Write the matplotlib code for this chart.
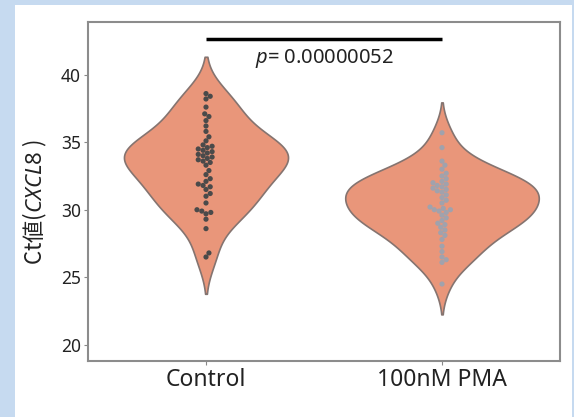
# Violin + swarm: Ct値 (CXCL8), Control vs 100nM PMA
import numpy as np
import matplotlib
matplotlib.use('Agg')
import matplotlib.pyplot as plt
from matplotlib.patches import Rectangle

plt.rcParams['font.family'] = ['Noto Sans CJK JP', 'DejaVu Sans']
plt.rcParams['mathtext.fontset'] = 'custom'
plt.rcParams['mathtext.rm'] = 'Noto Sans'
plt.rcParams['mathtext.it'] = 'Noto Sans:italic'

# --- datos ---
grupos = ['Control', '100nM PMA']
ct_control = [38.6, 38.4, 38.2, 37.6, 37.1, 36.9, 36.6, 36.2, 35.8, 35.4, 35.1,
              34.8, 34.7, 34.6, 34.5, 34.4, 34.3, 34.2, 34.1, 34.0, 33.9,
              33.8, 33.7, 33.6, 33.5, 33.3, 32.9, 32.6, 32.3, 32.1,
              31.9, 31.8, 31.7, 31.5, 31.2, 31.0,
              30.5, 30.0, 29.9, 29.8, 29.7, 29.3, 28.6, 26.8, 26.5]
ct_pma = [35.7, 34.6, 33.6, 33.3, 33.0, 32.7, 32.5, 32.3, 32.1, 32.0, 31.9,
          31.8, 31.7, 31.6, 31.5, 31.4, 31.3, 31.1, 30.9, 30.7, 30.5, 30.2,
          30.1, 30.0, 30.0, 29.9, 29.8, 29.6, 29.4, 29.2, 29.0, 28.9, 28.7,
          28.5, 28.3, 28.1, 27.8, 27.3, 26.9, 26.5, 26.3, 26.1, 24.5]
y_ticks = [20, 25, 30, 35, 40]
p_texto = '0.00000052'


def kde(vals, grid):
    """KDE gaussiano simples (regra de Scott)."""
    v = np.asarray(vals)
    bw = v.std(ddof=1) * len(v) ** (-1 / 5)
    z = (grid[:, None] - v[None, :]) / bw
    dens = np.exp(-0.5 * z ** 2).sum(axis=1) / (len(v) * bw * np.sqrt(2 * np.pi))
    return dens, bw


def swarm_x(ax, vals, centro, d_px):
    """Posições x de um beeswarm simples, calculado em pixels."""
    pts = ax.transData.transform(np.column_stack([np.full(len(vals), centro), vals]))
    xc = pts[0, 0]
    ypx = pts[:, 1]
    xs = np.zeros(len(vals))
    colocados = []
    for i in np.argsort(ypx):
        y = ypx[i]
        cand = [0.0]
        for px, py in colocados:
            dy = y - py
            if abs(dy) < d_px:
                dx = np.sqrt(d_px ** 2 - dy ** 2)
                cand += [px + dx, px - dx]
        cand = sorted(cand, key=abs)
        for c in cand:
            ok = all((c - px) ** 2 + (y - py) ** 2 >= d_px ** 2 - 1e-6 for px, py in colocados)
            if ok:
                break
        colocados.append((c, y))
        xs[i] = c
    xy = ax.transData.inverted().transform(np.column_stack([xc + xs, ypx]))
    return xy[:, 0]


fig = plt.figure(figsize=(5.74, 4.17), dpi=100)
fig.patch.set_facecolor('#c6daf0')
fundo = Rectangle((15 / 574, 0), (572 - 15) / 574, 1 - 5 / 417,
                  transform=fig.transFigure, facecolor='white', edgecolor='none')
fundo.set_zorder(-10)
fig.add_artist(fundo)

ax = fig.add_axes([88 / 574, 1 - 361 / 417, (560 - 88) / 574, (361 - 22) / 417])
ax.set_zorder(1)
ax.set_xlim(-0.5, 1.5)
ax.set_ylim(18.8, 43.9)

# violinos (escala por área, largura 0.8)
dados = [ct_control, ct_pma]
curvas = []
for vals in dados:
    v = np.asarray(vals)
    _, bw = kde(v, np.array([v.mean()]))
    grid = np.linspace(v.min() - 2 * bw, v.max() + 2 * bw, 300)
    dens, _ = kde(v, grid)
    curvas.append((grid, dens))
dmax = max(d.max() for _, d in curvas)
for pos, (grid, dens) in enumerate(curvas):
    meia = 0.41 * dens / dmax
    ax.fill_betweenx(grid, pos - meia, pos + meia, facecolor='#e9967a',
                     edgecolor='#857470', linewidth=1.2, zorder=2)

# pontos (swarm)
cores = ['#4a4a4a', '#a0a2ad']
for pos, vals in enumerate(dados):
    xs = swarm_x(ax, vals, pos, 5.0)
    ax.scatter(xs, vals, s=14, color=cores[pos], edgecolors='none', zorder=3)

# barra de significância
ax.plot([0, 1], [42.67, 42.67], color='black', linewidth=2.5, solid_capstyle='butt', zorder=4)
ax.text(0.5, 41.2, r'$p$= ' + p_texto, ha='center', va='center', fontsize=14.5,
        family=['Noto Sans', 'DejaVu Sans'], color='#222222')

ax.set_xticks([0, 1])
ax.set_xticklabels(grupos, fontsize=16.5, family=['Noto Sans', 'DejaVu Sans'], color='#222222')
ax.set_yticks(y_ticks)
ax.set_yticklabels([str(t) for t in y_ticks], fontsize=12.5,
                   family=['Noto Sans', 'DejaVu Sans'], color='#222222')
ax.tick_params(axis='both', length=3, width=0.8, color='#888888', pad=2)
ax.set_ylabel(r'Ct値($\it{CXCL8}$ )', fontsize=16, color='#222222')
ax.yaxis.set_label_coords(-0.082, 0.47)
for s in ax.spines.values():
    s.set_color('#8c8c8c')
    s.set_linewidth(1.5)

fig.savefig('out.png', dpi=100)
